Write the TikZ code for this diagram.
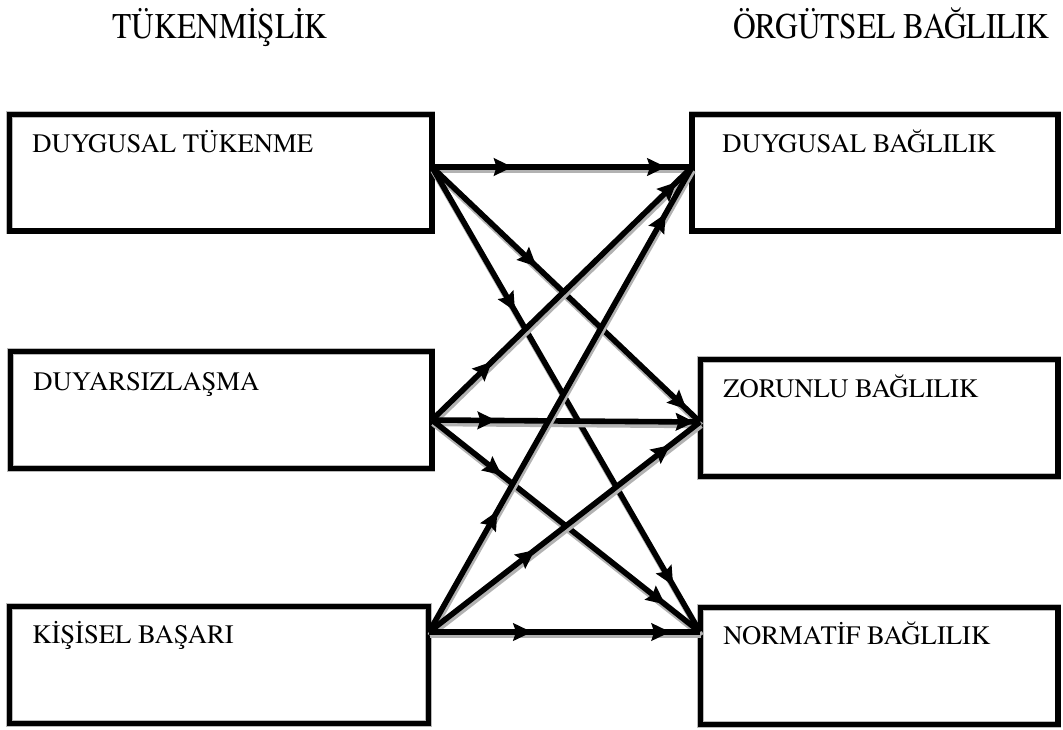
\documentclass[tikz,border=0pt]{standalone}
\usepackage{fontspec}
\setmainfont{TeX Gyre Termes}
\usetikzlibrary{arrows.meta,decorations.markings,fit}
\tikzset{
  box/.style={draw=black, line width=3.9pt, inner sep=0pt, outer sep=0pt,
    preaction={draw=gray!55, line width=5pt}},
  lbl/.style={anchor=base west, inner sep=0pt, font=\fontsize{20}{24}\selectfont},
  ttl/.style={anchor=base, inner sep=0pt, font=\fontsize{23.6}{28}\selectfont},
  mytip/.tip={Stealth[length=14pt,width=13pt,inset=2pt]},
  conn/.style 2 args={line width=4.2pt,
    preaction={draw=gray!60, line width=4.2pt, transform canvas={shift={(0.8pt,-2.6pt)}}},
    decoration={markings,
      mark=at position #1 with {\arrow{mytip}},
      mark=at position #2 with {\arrow{mytip}}},
    postaction={decorate}}
}
\begin{document}
\begin{tikzpicture}[x=0.75pt,y=-0.75pt]
\useasboundingbox (0,0) rectangle (1063,729);
% titles
\node[ttl] (T1) at (220,38) {\scalebox{1}[1.15]{TÜKENMİŞLİK}};
\node[ttl] (T2) at (891,38) {\scalebox{1}[1.15]{ÖRGÜTSEL BAĞLILIK}};
% left boxes
\node[box, fit={(9.5,114.5) (432,231)}] (L1) {};
\node[box, fit={(10.5,351.5) (432,468.5)}] (L2) {};
\node[box, fit={(9.5,606.5) (428.5,723.5)}] (L3) {};
% right boxes
\node[box, fit={(692,114.5) (1058,231)}] (R1) {};
\node[box, fit={(700.5,359.5) (1058,476.5)}] (R2) {};
\node[box, fit={(700.5,607.5) (1058,724.5)}] (R3) {};
% labels
\node[lbl] (a1) at (32,152) {DUYGUSAL TÜKENME};
\node[lbl] (a2) at (33,390) {DUYARSIZLAŞMA};
\node[lbl] (a3) at (32,643) {KİŞİSEL BAŞARI};
\node[lbl] (b1) at (722,152) {DUYGUSAL BAĞLILIK};
\node[lbl] (b2) at (723,397) {ZORUNLU BAĞLILIK};
\node[lbl] (b3) at (723,644) {NORMATİF BAĞLILIK};
% connection points
\coordinate (l1o) at (432,167);
\coordinate (l2o) at (432,420);
\coordinate (l3o) at (429,632);
\coordinate (r1i) at (692,167);
\coordinate (r2i) at (700,422);
\coordinate (r3i) at (700,632);
% connectors
\draw[conn={0.31}{0.90}] (l1o) -- (r1i);
\draw[conn={0.39}{0.95}] (l1o) -- (r2i);
\draw[conn={0.31}{0.90}] (l1o) -- (r3i);
\draw[conn={0.23}{0.94}] (l2o) -- (r1i);
\draw[conn={0.24}{0.98}] (l2o) -- (r2i);
\draw[conn={0.26}{0.87}] (l2o) -- (r3i);
\draw[conn={0.26}{0.90}] (l3o) -- (r1i);
\draw[conn={0.39}{0.89}] (l3o) -- (r2i);
\draw[conn={0.38}{0.89}] (l3o) -- (r3i);
\end{tikzpicture}
\end{document}
